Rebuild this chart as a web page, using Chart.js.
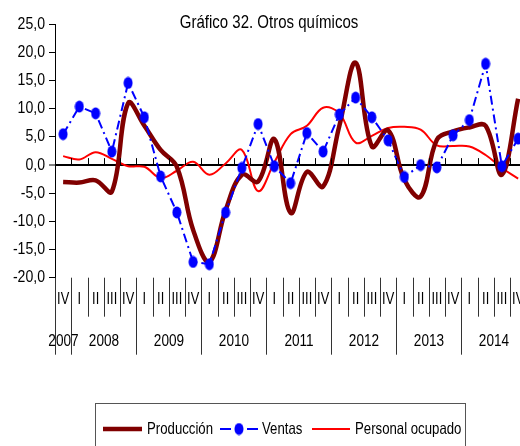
<!DOCTYPE html>
<html>
<head>
<meta charset="utf-8">
<script src="https://cdn.jsdelivr.net/npm/chart.js@4.4.1/dist/chart.umd.min.js"></script>
<style>
    html, body { margin: 0; padding: 0; overflow: hidden; background: #fff; }
</style>
</head>
<body>
<canvas id="chart" width="540" height="446"></canvas>
<script>
// quarterly categories, 2007 IV .. 2014 IV
const quarters = ['IV',
    'I', 'II', 'III', 'IV', 'I', 'II', 'III', 'IV', 'I', 'II', 'III', 'IV',
    'I', 'II', 'III', 'IV', 'I', 'II', 'III', 'IV', 'I', 'II', 'III', 'IV',
    'I', 'II', 'III', 'IV'];
const years = ['2007', '2008', '2009', '2010', '2011', '2012', '2013', '2014'];
const quartersPerYear = [1, 4, 4, 4, 4, 4, 4, 4];

const produccion = [-3.0, -3.1, -2.7, -4.7, 11.0, 7.0, 2.7, -0.3, -11.5, -17.2, -8.0, -1.7, -2.9,
    4.6, -8.5, -1.2, -3.8, 7.0, 18.2, 3.3, 6.2, -2.6, -5.6, 4.5, 6.0, 6.7, 7.0, -1.7, 11.8];
const ventas = [5.5, 10.4, 9.2, 2.4, 14.6, 8.5, -2.0, -8.4, -17.2, -17.6, -8.4, -0.5, 7.3,
    -0.2, -3.2, 5.7, 2.4, 9.0, 12.0, 8.5, 4.4, -2.1, 0.0, -0.4, 5.3, 8.0, 18.0, -0.2, 4.7];
const personal = [1.6, 1.0, 2.3, 1.1, -0.2, -0.3, -2.3, -1.0, 0.6, -1.7, 0.3, 2.7, -4.6,
    0.5, 5.5, 7.0, 10.2, 9.2, 4.0, 5.2, 6.6, 6.8, 6.3, 3.5, 3.4, 3.3, 1.8, -0.5, -2.4];

const yMin = -20, yMax = 25, yStep = 5;
const title = 'Gráfico 32. Otros químicos';

const FONT = '"Liberation Sans", Arial, sans-serif';

// oval marker like the one in the original
const dot = document.createElement('canvas');
dot.width = 10; dot.height = 13;
const dctx = dot.getContext('2d');
dctx.fillStyle = '#0000FF';
dctx.beginPath();
dctx.ellipse(5, 6.5, 4.5, 6, 0, 0, Math.PI * 2);
dctx.fill();

function line(ctx, x1, y1, x2, y2) {
    ctx.beginPath();
    ctx.moveTo(x1, y1);
    ctx.lineTo(x2, y2);
    ctx.stroke();
}

// the original text is squeezed sideways, so draw it narrowed
function narrowText(ctx, text, x, y, align, sx) {
    ctx.save();
    ctx.translate(x, y);
    ctx.scale(sx, 1);
    ctx.textAlign = align;
    ctx.fillText(text, 0, 0);
    ctx.restore();
}

const fmt = v => v.toFixed(1).replace('.', ',');

const decor = {
    id: 'decor',
    afterDraw(chart) {
        const { ctx, chartArea: a, scales: { x, y } } = chart;
        const step = x.getPixelForValue(1) - x.getPixelForValue(0);
        const edge = k => Math.round(x.getPixelForValue(k) - step / 2) + 0.5;
        const y0 = y.getPixelForValue(0);

        // year starts
        const starts = [0];
        quartersPerYear.forEach(n => starts.push(starts[starts.length - 1] + n));

        ctx.save();
        ctx.lineWidth = 1;
        ctx.strokeStyle = '#000';
        // small ticks on the zero line
        for (let k = 1; k <= quarters.length; k++) {
            line(ctx, edge(k), y0 - 7, edge(k), y0);
        }
        // separators under the plot
        ctx.strokeStyle = '#333';
        for (let k = 0; k <= quarters.length; k++) {
            const long = starts.includes(k);
            line(ctx, edge(k), a.bottom, edge(k), a.bottom + (long ? 77 : 39));
        }

        ctx.fillStyle = '#000';
        ctx.textBaseline = 'middle';

        // y tick labels
        ctx.font = '16px ' + FONT;
        y.ticks.forEach(t => narrowText(ctx, fmt(t.value), a.left - 10, y.getPixelForValue(t.value), 'right', 0.88));

        ctx.font = '16px ' + FONT;
        quarters.forEach((q, i) => narrowText(ctx, q, x.getPixelForValue(i), a.bottom + 22, 'center', 0.8));
        ctx.font = '17px ' + FONT;
        years.forEach((yr, j) => {
            const cx = (edge(starts[j]) + edge(starts[j + 1])) / 2;
            narrowText(ctx, yr, cx, a.bottom + 64, 'center', 0.8);
        });

        // title
        ctx.font = '19px ' + FONT;
        narrowText(ctx, title, 269, 23, 'center', 0.79);

        // legend box
        ctx.strokeStyle = '#555';
        ctx.strokeRect(95.5, 403.5, 370, 60);
        const ly = 429;
        ctx.font = '16.5px ' + FONT;
        const ds = chart.data.datasets;

        ctx.strokeStyle = ds[0].borderColor;
        ctx.lineWidth = ds[0].borderWidth;
        line(ctx, 103, ly, 142, ly);
        narrowText(ctx, ds[0].label, 147, ly, 'left', 0.8);

        ctx.strokeStyle = ds[1].borderColor;
        ctx.lineWidth = 2;
        line(ctx, 220, ly, 231, ly);
        line(ctx, 247, ly, 258, ly);
        ctx.drawImage(dot, 239 - 5, ly - 6.5);
        narrowText(ctx, ds[1].label, 262, ly, 'left', 0.8);

        ctx.strokeStyle = ds[2].borderColor;
        ctx.lineWidth = ds[2].borderWidth;
        line(ctx, 312, ly, 350, ly);
        narrowText(ctx, ds[2].label, 355, ly, 'left', 0.8);
        ctx.restore();
    }
};

new Chart(document.getElementById('chart').getContext('2d'), {
    type: 'line',
    data: {
        labels: quarters,
        datasets: [{
            label: 'Producción',
            data: produccion,
            borderColor: '#800000',
            borderWidth: 4.5,
            tension: 0.38,
            pointRadius: 0,
            order: 1
        }, {
            label: 'Ventas',
            data: ventas,
            borderColor: '#0000FF',
            borderWidth: 2,
            borderDash: [9, 4, 2, 4],
            tension: 0,
            pointStyle: dot,
            pointRadius: 5,
            order: 0
        }, {
            label: 'Personal ocupado',
            data: personal,
            borderColor: '#FF0000',
            borderWidth: 2,
            tension: 0.38,
            pointRadius: 0,
            order: 2
        }]
    },
    options: {
        responsive: false,
        animation: false,
        layout: {
            padding: { left: 0, right: 13.75, top: 24.4, bottom: 168.3 }
        },
        plugins: {
            legend: { display: false },
            tooltip: { enabled: false },
            title: { display: false }
        },
        scales: {
            x: {
                type: 'category',
                offset: true,
                display: false
            },
            y: {
                min: yMin,
                max: yMax,
                afterFit: s => { s.width = 55; },
                border: { display: true, color: '#000', width: 1 },
                grid: {
                    color: c => (c.tick && c.tick.value === 0) ? '#000' : 'rgba(0,0,0,0)',
                    lineWidth: c => (c.tick && c.tick.value === 0) ? 2 : 1,
                    tickColor: '#000',
                    tickWidth: 1,
                    tickLength: 6
                },
                ticks: {
                    stepSize: yStep,
                    display: false
                }
            }
        }
    },
    plugins: [decor]
});
</script>
</body>
</html>
